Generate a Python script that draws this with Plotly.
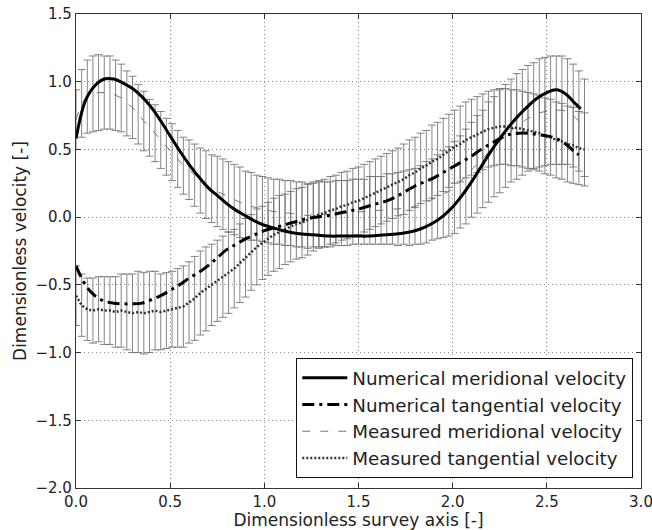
import numpy as np
import plotly.graph_objects as go

# ---------------- data ----------------
# measured stations (x positions along survey axis)
meas_x = np.round(np.arange(0, 91) * 0.03, 2)

meas_mer_mean = [
    0.72, 0.84, 0.89, 0.91, 0.92, 0.92, 0.92, 0.90, 0.88, 0.84,
    0.81, 0.76, 0.71, 0.66, 0.62, 0.57, 0.52, 0.48, 0.43, 0.38,
    0.35, 0.31, 0.27, 0.24, 0.21, 0.19, 0.17, 0.15, 0.13, 0.11,
    0.09, 0.08, 0.07, 0.06, 0.05, 0.04, 0.04, 0.03, 0.03, 0.02,
    0.02, 0.01, 0.02, 0.02, 0.02, 0.02, 0.03, 0.03, 0.03, 0.04,
    0.04, 0.04, 0.05, 0.05, 0.05, 0.06, 0.06, 0.06, 0.07, 0.07,
    0.08, 0.09, 0.11, 0.13, 0.15, 0.17, 0.19, 0.22, 0.26, 0.30,
    0.35, 0.39, 0.43, 0.48, 0.52, 0.56, 0.60, 0.64, 0.67, 0.70,
    0.73, 0.75, 0.77, 0.78, 0.79, 0.79, 0.79, 0.78, 0.75, 0.71,
    0.66,
]
meas_mer_err = [
    0.22, 0.25, 0.27, 0.28, 0.28, 0.27, 0.27, 0.26, 0.25, 0.24,
    0.23, 0.22, 0.22, 0.21, 0.21, 0.21, 0.21, 0.21, 0.21, 0.21,
    0.22, 0.23, 0.24, 0.25, 0.25, 0.26, 0.26, 0.26, 0.26, 0.26,
    0.25, 0.25, 0.24, 0.24, 0.24, 0.24, 0.24, 0.24, 0.24, 0.24,
    0.24, 0.24, 0.24, 0.24, 0.24, 0.24, 0.24, 0.24, 0.24, 0.24,
    0.24, 0.24, 0.25, 0.25, 0.25, 0.26, 0.26, 0.27, 0.27, 0.28,
    0.28, 0.29, 0.30, 0.30, 0.31, 0.32, 0.33, 0.34, 0.34, 0.35,
    0.35, 0.36, 0.36, 0.37, 0.37, 0.38, 0.38, 0.38, 0.39, 0.39,
    0.39, 0.39, 0.40, 0.40, 0.40, 0.40, 0.40, 0.39, 0.38, 0.37,
    0.36,
]
meas_tan_mean = [
    -0.58, -0.65, -0.68, -0.69, -0.68, -0.69, -0.69, -0.70, -0.69, -0.70,
    -0.71, -0.70, -0.71, -0.70, -0.69, -0.70, -0.69, -0.68, -0.67, -0.66,
    -0.63, -0.60, -0.56, -0.53, -0.50, -0.47, -0.44, -0.41, -0.38, -0.34,
    -0.30, -0.26, -0.22, -0.19, -0.16, -0.13, -0.11, -0.09, -0.07, -0.05,
    -0.04, -0.02, 0.00, 0.02, 0.03, 0.05, 0.06, 0.08, 0.09, 0.11,
    0.12, 0.14, 0.16, 0.18, 0.20, 0.22, 0.24, 0.26, 0.28, 0.31,
    0.33, 0.36, 0.38, 0.41, 0.43, 0.46, 0.49, 0.52, 0.54, 0.57,
    0.59, 0.61, 0.63, 0.65, 0.66, 0.67, 0.67, 0.66, 0.66, 0.65,
    0.64, 0.63, 0.62, 0.60, 0.59, 0.57, 0.56, 0.54, 0.53, 0.51,
    0.50,
]
meas_tan_err = [
    0.22, 0.23, 0.23, 0.24, 0.24, 0.25, 0.25, 0.26, 0.27, 0.28,
    0.29, 0.30, 0.30, 0.30, 0.29, 0.28, 0.28, 0.28, 0.29, 0.30,
    0.30, 0.31, 0.31, 0.31, 0.30, 0.30, 0.30, 0.30, 0.29, 0.29,
    0.29, 0.28, 0.28, 0.27, 0.27, 0.27, 0.27, 0.26, 0.26, 0.26,
    0.26, 0.26, 0.25, 0.25, 0.25, 0.25, 0.25, 0.25, 0.25, 0.25,
    0.25, 0.25, 0.25, 0.25, 0.25, 0.25, 0.25, 0.25, 0.26, 0.26,
    0.26, 0.26, 0.26, 0.27, 0.27, 0.27, 0.27, 0.27, 0.28, 0.28,
    0.28, 0.28, 0.28, 0.28, 0.28, 0.28, 0.28, 0.28, 0.28, 0.28,
    0.28, 0.28, 0.28, 0.28, 0.28, 0.28, 0.28, 0.28, 0.28, 0.27,
    0.27,
]

num_mer_x = [
    0.00, 0.05, 0.10, 0.15, 0.20, 0.25, 0.30, 0.35, 0.40, 0.45,
    0.50, 0.55, 0.60, 0.65, 0.70, 0.75, 0.80, 0.85, 0.90, 0.95,
    1.00, 1.05, 1.10, 1.15, 1.20, 1.25, 1.30, 1.35, 1.40, 1.45,
    1.50, 1.55, 1.60, 1.65, 1.70, 1.75, 1.80, 1.85, 1.90, 1.95,
    2.00, 2.05, 2.10, 2.15, 2.20, 2.25, 2.30, 2.35, 2.40, 2.45,
    2.50, 2.55, 2.60, 2.65, 2.68,
]
num_mer_y = [
    0.58, 0.86, 0.97, 1.02, 1.02, 0.99, 0.95, 0.89, 0.81, 0.71,
    0.60, 0.49, 0.39, 0.30, 0.22, 0.16, 0.10, 0.05, 0.01, -0.03,
    -0.06, -0.08, -0.10, -0.115, -0.125, -0.13, -0.135, -0.14, -0.14, -0.14,
    -0.14, -0.14, -0.135, -0.13, -0.125, -0.115, -0.10, -0.075, -0.04, 0.01,
    0.075, 0.16, 0.26, 0.37, 0.48, 0.58, 0.67, 0.75, 0.82, 0.88,
    0.92, 0.94, 0.91, 0.84, 0.80,
]
num_tan_x = [
    0.00, 0.05, 0.10, 0.15, 0.20, 0.25, 0.30, 0.35, 0.40, 0.45,
    0.50, 0.55, 0.60, 0.65, 0.70, 0.75, 0.80, 0.85, 0.90, 0.95,
    1.00, 1.05, 1.10, 1.15, 1.20, 1.25, 1.30, 1.35, 1.40, 1.45,
    1.50, 1.55, 1.60, 1.65, 1.70, 1.75, 1.80, 1.85, 1.90, 1.95,
    2.00, 2.05, 2.10, 2.15, 2.20, 2.25, 2.30, 2.35, 2.40, 2.45,
    2.50, 2.55, 2.60, 2.65, 2.67,
]
num_tan_y = [
    -0.36, -0.50, -0.58, -0.62, -0.635, -0.64, -0.64, -0.635, -0.61, -0.58,
    -0.54, -0.50, -0.45, -0.41, -0.36, -0.30, -0.24, -0.20, -0.16, -0.13,
    -0.10, -0.08, -0.06, -0.04, -0.02, -0.005, 0.005, 0.015, 0.03, 0.045,
    0.06, 0.08, 0.10, 0.12, 0.15, 0.19, 0.23, 0.26, 0.29, 0.33,
    0.37, 0.41, 0.45, 0.50, 0.54, 0.58, 0.61, 0.62, 0.62, 0.61,
    0.60, 0.58, 0.54, 0.48, 0.46,
]

tick_vals_x = [0.0, 0.5, 1.0, 1.5, 2.0, 2.5, 3.0]
tick_vals_y = [-2.0, -1.5, -1.0, -0.5, 0.0, 0.5, 1.0, 1.5]

FONT = "DejaVu Sans"
ERR_COLOR = "#666666"
TXT = "#222222"

fig = go.Figure()

fig.add_trace(go.Scatter(
    x=meas_x, y=meas_mer_mean, mode="lines",
    name="Measured meridional velocity", legendrank=3,
    line=dict(color="#777777", width=1, dash="8px,10px"),
    error_y=dict(type="data", array=meas_mer_err, visible=True,
                 color=ERR_COLOR, thickness=0.8, width=4),
))
fig.add_trace(go.Scatter(
    x=meas_x, y=meas_tan_mean, mode="lines",
    name="Measured tangential velocity", legendrank=4,
    line=dict(color="#333333", width=2.5, dash="2px,2px"),
    error_y=dict(type="data", array=meas_tan_err, visible=True,
                 color=ERR_COLOR, thickness=0.8, width=4),
))
fig.add_trace(go.Scatter(
    x=num_mer_x, y=num_mer_y, mode="lines", line_shape="spline",
    name="Numerical meridional velocity", legendrank=1,
    line=dict(color="black", width=3),
))
fig.add_trace(go.Scatter(
    x=num_tan_x, y=num_tan_y, mode="lines", line_shape="spline",
    name="Numerical tangential velocity", legendrank=2,
    line=dict(color="black", width=3, dash="12px,5px,3px,5px"),
))

axis_common = dict(
    showline=True, linecolor="#333333", linewidth=1.2, mirror="ticks",
    ticks="inside", ticklen=5, tickcolor="#333333",
    showgrid=True, gridcolor="#8c8c8c", griddash="1px,3px", gridwidth=1,
    zeroline=False, tickformat=".1f", automargin=False,
    ticklabeloverflow="allow",
    tickfont=dict(family=FONT, size=15, color=TXT),
)

fig.update_xaxes(range=[0, 3], tickvals=tick_vals_x,
                 title=dict(text="Dimensionless survey axis [-]",
                            font=dict(family=FONT, size=17, color=TXT),
                            standoff=2),
                 **axis_common)
fig.update_yaxes(range=[-2, 1.5], tickvals=tick_vals_y,
                 title=dict(text="Dimensionless velocity [-]",
                            font=dict(family=FONT, size=17, color=TXT),
                            standoff=4),
                 **axis_common)

fig.update_layout(
    width=652, height=530,
    margin=dict(l=76, r=11, t=14, b=42),
    plot_bgcolor="white", paper_bgcolor="white",
    font=dict(family=FONT, color=TXT),
    legend=dict(
        x=0.986, y=0.021, xanchor="right", yanchor="bottom",
        bgcolor="white", bordercolor="#111111", borderwidth=1.2,
        font=dict(family=FONT, size=18.3, color=TXT),
        itemwidth=45, traceorder="normal",
    ),
)

fig.write_html("out.html")
